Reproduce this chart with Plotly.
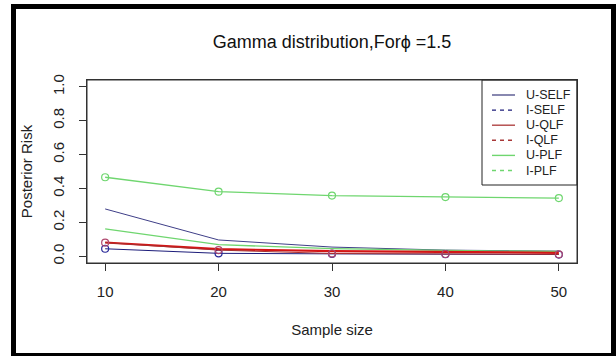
import plotly.graph_objects as go

# ---- data ----
sample_size = [10, 20, 30, 40, 50]
u_self = [0.279, 0.096, 0.054, 0.036, 0.030]
i_self = [0.044, 0.017, 0.014, 0.012, 0.010]
u_qlf = [0.081, 0.042, 0.030, 0.024, 0.020]
i_qlf = [0.080, 0.036, 0.016, 0.013, 0.011]
u_plf = [0.466, 0.381, 0.358, 0.349, 0.343]
i_plf = [0.162, 0.068, 0.045, 0.034, 0.028]

series_names = ["U-SELF", "I-SELF", "U-QLF", "I-QLF", "U-PLF", "I-PLF"]
y_ticks = [0.0, 0.2, 0.4, 0.6, 0.8, 1.0]
x_ticks = [10, 20, 30, 40, 50]

W, H = 616, 356
ML, MR, MT, MB = 87, 39, 80, 93
PW, PH = W - ML - MR, H - MT - MB

FONT = "Liberation Sans, Arial, sans-serif"

fig = go.Figure()

# plotted lines (drawn solid, as in the picture)
plot_specs = [
    (u_self, "#3f3f88", 1, False, None),
    (i_plf, "#6fd66f", 1.3, False, None),
    (u_plf, "#6fd66f", 1.3, True, "#6fd66f"),
    (i_self, "#1c1c7a", 1, True, "#2b2b9a"),
    (u_qlf, "#d41515", 2.2, False, None),
    (i_qlf, "#a83030", 1, True, "#b04a70"),
]
for vals, col, lw, mk, mcol in plot_specs:
    fig.add_trace(go.Scatter(
        x=sample_size, y=vals,
        mode="lines+markers" if mk else "lines",
        line=dict(color=col, width=lw),
        marker=dict(symbol="circle-open", size=7,
                    line=dict(width=1.2, color=mcol or col), color=mcol or col),
        showlegend=False, hoverinfo="skip",
    ))


def px_x(px):
    return (px - ML) / PW


def px_y(py):
    return (H - MB - py) / PH


# ---- R-style legend box (drawn as shapes + text) ----
legend_styles = [
    ("#55558f", None),
    ("#1c1c7a", "4px,4px"),
    ("#b04545", None),
    ("#a83838", "4px,4px"),
    ("#6fd66f", None),
    ("#6fd66f", "4px,4px"),
]
LEG_X0, LEG_X1, LEG_Y0, LEG_Y1 = 482, 577, 80, 185
fig.add_shape(type="rect", xref="paper", yref="paper",
              x0=px_x(LEG_X0), x1=px_x(LEG_X1), y0=px_y(LEG_Y1), y1=px_y(LEG_Y0),
              line=dict(color="#222", width=1), fillcolor="white", layer="above")
for i, (name, (col, dash)) in enumerate(zip(series_names, legend_styles)):
    yc = 95 + i * 15.1
    line = dict(color=col, width=1.4)
    if dash:
        line["dash"] = dash
    fig.add_shape(type="line", xref="paper", yref="paper",
                  x0=px_x(492), x1=px_x(515), y0=px_y(yc), y1=px_y(yc),
                  line=line, layer="above")
    fig.add_annotation(xref="paper", yref="paper", x=px_x(524), y=px_y(yc),
                       text=name, showarrow=False, xanchor="left",
                       yanchor="middle",
                       font=dict(family=FONT, size=12.5, color="#222"))

# outer black frame of the picture
fig.add_shape(type="rect", xref="paper", yref="paper",
              x0=px_x(13.5), x1=px_x(613.5), y0=px_y(355.5), y1=px_y(6.5),
              line=dict(color="black", width=5), fillcolor="rgba(0,0,0,0)",
              layer="above")

# plot box (R style)
fig.add_shape(type="rect", xref="paper", yref="paper",
              x0=0, x1=1, y0=0, y1=1,
              line=dict(color="#333", width=1), fillcolor="rgba(0,0,0,0)",
              layer="above")

axis_common = dict(
    showgrid=False, zeroline=False,
    showline=True, mirror=True, linecolor="#333", linewidth=1,
    ticks="outside", ticklen=7, tickcolor="#333", tickwidth=1,
    tickfont=dict(family=FONT, size=15, color="#222"),
)

fig.update_layout(
    width=W, height=H,
    margin=dict(l=ML, r=MR, t=MT, b=MB),
    paper_bgcolor="white", plot_bgcolor="white",
    font=dict(family=FONT, color="#222"),
    title=dict(text="Gamma distribution,For\u03d5 =1.5",
               x=0.5, xref="paper", xanchor="center",
               y=1 - 42 / H, yref="container", yanchor="middle",
               font=dict(family=FONT, size=18, color="#111")),
    xaxis=dict(range=[8.4, 51.6], tickvals=x_ticks,
               ticktext=[str(v) for v in x_ticks],
               ticklabelstandoff=8,
               title=dict(text="Sample size", standoff=25,
                          font=dict(family=FONT, size=15, color="#222")),
               **axis_common),
    yaxis=dict(range=[-0.04, 1.04], tickvals=y_ticks,
               ticktext=[f"{v:.1f}" for v in y_ticks],
               tickangle=-90, ticklabelstandoff=9,
               title=dict(text="Posterior Risk", standoff=13,
                          font=dict(family=FONT, size=15, color="#222")),
               **axis_common),
    showlegend=False,
)

fig.write_html("out.html",
               config={"displayModeBar": False},
               post_script="document.body.style.margin='0';"
                           "document.body.style.overflow='hidden';")
